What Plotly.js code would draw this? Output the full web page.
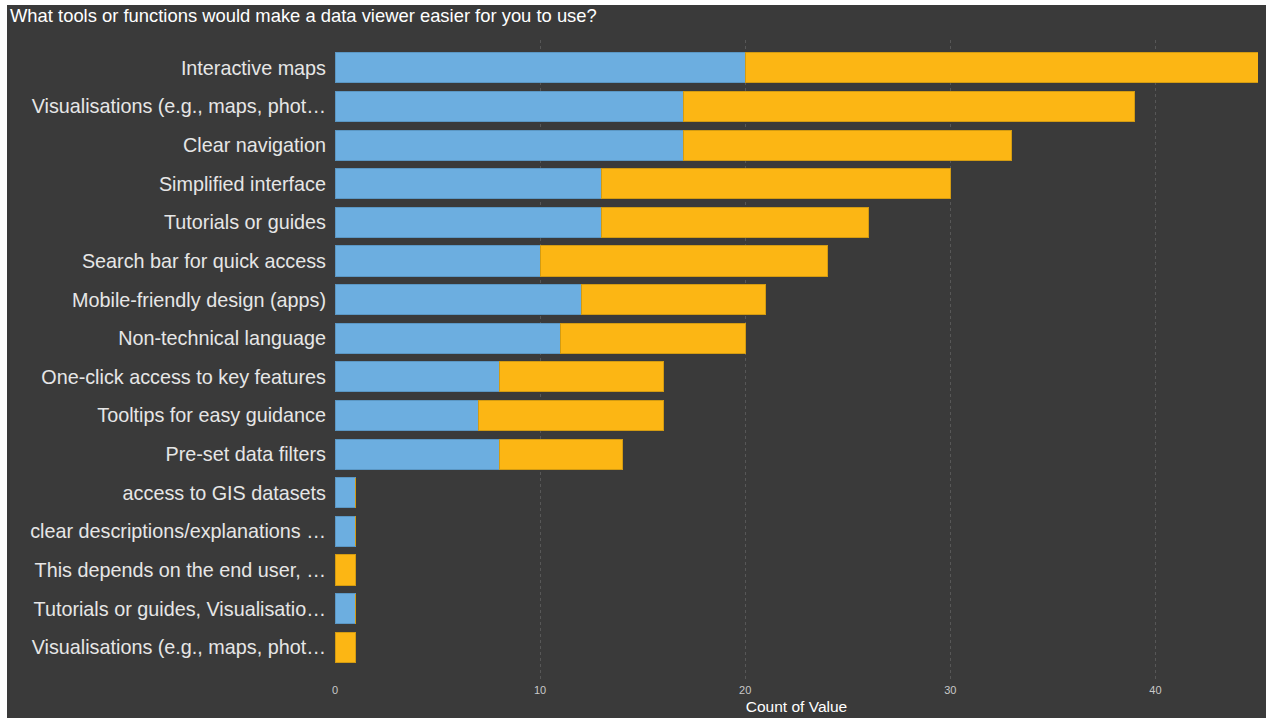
<!DOCTYPE html>
<html>
<head>
<meta charset="utf-8">
<script src="https://cdn.plot.ly/plotly-3.0.1.min.js"></script>
<style>
  html, body { margin: 0; padding: 0; background: #ffffff; width: 1268px; height: 718px; overflow: hidden; }
  #chart { position: absolute; left: 7px; top: 5px; width: 1259px; height: 713px; }
</style>
</head>
<body>
<div id="chart"></div>
<script>
const categories = [
  "Interactive maps",
  "Visualisations (e.g., maps, phot…",
  "Clear navigation",
  "Simplified interface",
  "Tutorials or guides",
  "Search bar for quick access",
  "Mobile-friendly design (apps)",
  "Non-technical language",
  "One-click access to key features",
  "Tooltips for easy guidance",
  "Pre-set data filters",
  "access to GIS datasets",
  "clear descriptions/explanations …",
  "This depends on the end user, …",
  "Tutorials or guides, Visualisatio…",
  "Visualisations (e.g., maps, phot…"
];
const blueValues   = [20, 17, 17, 13, 13, 10, 12, 11, 8, 7, 8, 1, 1, 0, 1, 0];
const orangeValues = [25, 22, 16, 17, 13, 14, 9, 9, 8, 9, 6, 0, 0, 1, 0, 1];
const xTicks = [0, 10, 20, 30, 40];

const positions = categories.map((c, i) => i);
const blue = '#6caee0', orange = '#fcb614';

const traces = [
  { type: 'bar', orientation: 'h', y: positions, x: blueValues, name: 'A',
    text: categories, hovertemplate: '%{text}: %{x}<extra></extra>', textposition: 'none',
    marker: { color: blue, line: { color: '#5b97c4', width: 1 } } },
  { type: 'bar', orientation: 'h', y: positions, x: orangeValues, name: 'B',
    text: categories, hovertemplate: '%{text}: %{x}<extra></extra>', textposition: 'none',
    marker: { color: orange, line: { color: '#d39b12', width: 1 } } }
];

const layout = {
  width: 1259, height: 713,
  paper_bgcolor: '#3a3a3a', plot_bgcolor: '#3a3a3a',
  barmode: 'stack', bargap: 0.22,
  showlegend: false,
  margin: { l: 328, r: 8, t: 35, b: 36 },
  font: { family: 'Liberation Sans, Arial, sans-serif', color: '#e6e6e6' },
  title: { text: 'What tools or functions would make a data viewer easier for you to use?',
    x: 0.0024, xref: 'container', xanchor: 'left', y: 0.985, yref: 'container', yanchor: 'middle',
    font: { size: 18.4, color: '#ffffff', family: 'Liberation Sans, Arial, sans-serif' } },
  xaxis: {
    range: [0, 45], tickvals: xTicks, ticktext: xTicks.map(String),
    showgrid: true, gridcolor: '#575757', griddash: 'dot', gridwidth: 1,
    zeroline: false, showline: false, ticks: '',
    tickfont: { size: 11, color: '#c8c8c8' },
    title: { text: 'Count of Value', font: { size: 15.5, color: '#ffffff' }, standoff: 6 }
  },
  yaxis: {
    type: 'linear', range: [15.9, -0.72],
    tickvals: positions, ticktext: categories,
    showgrid: false, zeroline: false, showline: false, ticks: '',
    ticklabelstandoff: 8,
    tickfont: { size: 19.8, color: '#e6e6e6' }
  }
};

Plotly.newPlot('chart', traces, layout, { displayModeBar: false, staticPlot: true });
</script>
</body>
</html>
